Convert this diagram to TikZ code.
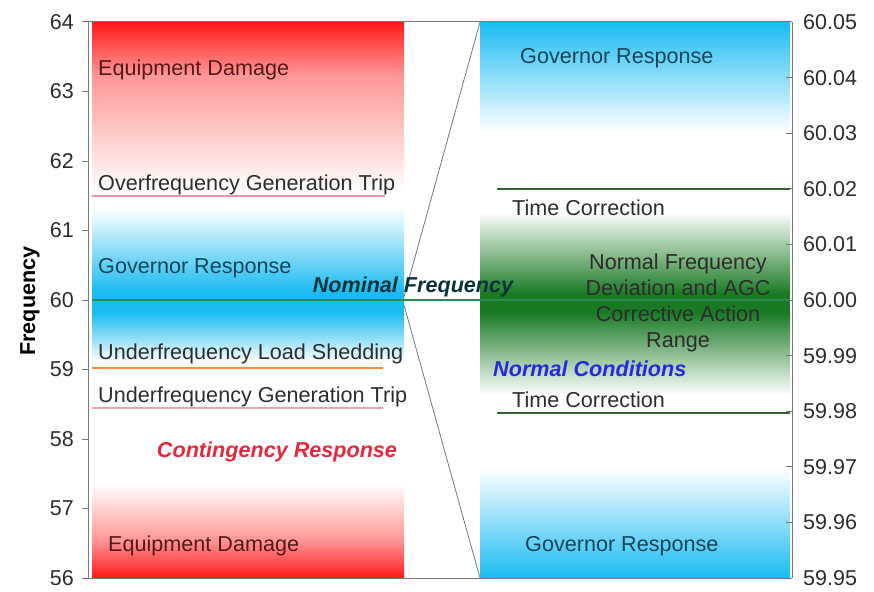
\documentclass[tikz,border=0pt]{standalone}
\usepackage{fontspec}
\setmainfont{Liberation Sans}
\usepackage{tikz}
\usetikzlibrary{positioning}
\definecolor{redA}{RGB}{255,25,25}
\definecolor{redB}{RGB}{255,150,150}
\definecolor{cyanA}{RGB}{25,187,240}
\definecolor{greenA}{RGB}{25,122,35}
\definecolor{axisgray}{RGB}{120,120,120}
\definecolor{txtgray}{RGB}{45,45,45}
\definecolor{govtxt}{RGB}{20,70,90}
\definecolor{dmgtxt}{RGB}{85,25,25}
\tikzset{
  lbl/.style={font=\fontsize{21.6}{26}\selectfont, inner sep=0pt, text=txtgray},
  ticklbl/.style={font=\fontsize{21.5}{24}\selectfont, inner sep=0pt, text=txtgray},
  emph/.style={lbl, font=\fontsize{21.6}{26}\selectfont\bfseries\itshape},
  axisline/.style={draw=axisgray, line width=1pt},
  mark line/.style={line width=1.2pt}
}

\begin{document}
\begin{tikzpicture}[x=1pt, y=-1pt]
	\useasboundingbox (0,0) rectangle (874,591);
	% left band
	\shade[top color=redA, bottom color=redB] (92,22) rectangle (404,75);
	\shade[top color=redB, bottom color=white] (92,75) rectangle (404,192);
	\shade[top color=white, bottom color=cyanA] (92,208) rectangle (404,292);
	\fill[cyanA] (92,292) rectangle (404,312);
	\shade[top color=cyanA, bottom color=white] (92,312) rectangle (404,362);
	\shade[top color=white, bottom color=redB] (92,484) rectangle (404,540);
	\shade[top color=redB, bottom color=redA] (92,540) rectangle (404,578);
	% right band
	\shade[top color=cyanA, bottom color=white] (480,22) rectangle (790,132);
	\shade[top color=white, bottom color=greenA] (480,212) rectangle (790,294);
	\fill[greenA] (480,294) rectangle (790,312);
	\shade[top color=greenA, bottom color=white] (480,312) rectangle (790,395);
	\shade[top color=white, bottom color=cyanA] (480,468) rectangle (790,578);
	% frame lines
	\coordinate (lt) at (88,22);
	\coordinate (lb) at (88,578);
	\coordinate (rt) at (792,22);
	\coordinate (rb) at (792,578);
	\draw[axisline] (lt) -- (rt);
	\draw[axisline] (lb) -- (rb);
	\draw[axisline] (lt) -- (lb);
	\draw[axisline] (rt) -- (rb);
	\foreach \v [count=\i from 0] in {64,63,62,61,60,59,58,57,56}{
		\draw[axisline] (82,22+\i*69.5) -- (88,22+\i*69.5);
		\node[ticklbl, anchor=east] (l\v) at (74,22+\i*69.5) {\v};
	}
	\foreach \v [count=\i from 0] in {60.05,60.04,60.03,60.02,60.01,60.00,59.99,59.98,59.97,59.96,59.95}{
		\draw[axisline] (786,22+\i*55.6) -- (792,22+\i*55.6);
		\node[ticklbl, anchor=west] (r\i) at (803,22+\i*55.6) {\v};
	}
	\node[lbl, font=\fontsize{21.6}{26}\selectfont\bfseries, text=black, rotate=90] (ylab) at (30,301) {Frequency};
	% zoom lines
	\coordinate (zt) at (404,297);
	\coordinate (zb) at (404,305);
	\coordinate (bt) at (480,22);
	\coordinate (bb) at (480,578);
	\draw[axisline, line width=0.8pt] (zt) -- (bt);
	\draw[axisline, line width=0.8pt] (zb) -- (bb);
	% marks
	\draw[mark line, draw={rgb,255:red,240;green,150;blue,160}] (92,196) -- (385,196);
	\draw[mark line, draw={rgb,255:red,245;green,140;blue,60}] (92,368) -- (383,368);
	\draw[mark line, draw={rgb,255:red,235;green,160;blue,170}] (92,408) -- (383,408);
	\draw[mark line, draw={rgb,255:red,60;green,95;blue,60}] (497,189) -- (790,189);
	\draw[mark line, draw={rgb,255:red,60;green,95;blue,60}] (497,413) -- (790,413);
	\draw[line width=1.6pt, draw={rgb,255:red,40;green,140;blue,80}] (92,300) -- (790,300);
	% left labels
	\node[lbl, anchor=west, text=dmgtxt] (dmg1) at (98,70) {Equipment Damage};
	\node[lbl, anchor=west] (oft) at (98,185) {Overfrequency Generation Trip};
	\node[lbl, anchor=west, text=govtxt] (gov1) at (98,268) {Governor Response};
	\node[emph, text={rgb,255:red,10;green,50;blue,60}] (nom) at (413,287) {Nominal Frequency};
	\node[lbl, anchor=west] (ufls) at (98,354) {Underfrequency Load Shedding};
	\node[lbl, anchor=west] (uft) at (98,397) {Underfrequency Generation Trip};
	\node[emph, text={rgb,255:red,230;green,40;blue,60}] (cont) at (277,452) {Contingency Response};
	\node[lbl, anchor=west, text=dmgtxt] (dmg2) at (108,546) {Equipment Damage};
	% right labels
	\node[lbl, anchor=west, text=govtxt] (gov2) at (520,58) {Governor Response};
	\node[lbl, anchor=west] (tc1) at (512,208) {Time Correction};
	\node[lbl, align=center, font=\fontsize{21.6}{26}\selectfont] (agc) at (678,303) {Normal Frequency\\Deviation and AGC\\Corrective Action\\Range};
	\node[emph, anchor=west, text={rgb,255:red,40;green,40;blue,220}] (normal) at (493,369) {Normal Conditions};
	\node[lbl, anchor=west] (tc2) at (512,400) {Time Correction};
	\node[lbl, anchor=west, text=govtxt] (gov3) at (525,546) {Governor Response};
\end{tikzpicture}
\end{document}
